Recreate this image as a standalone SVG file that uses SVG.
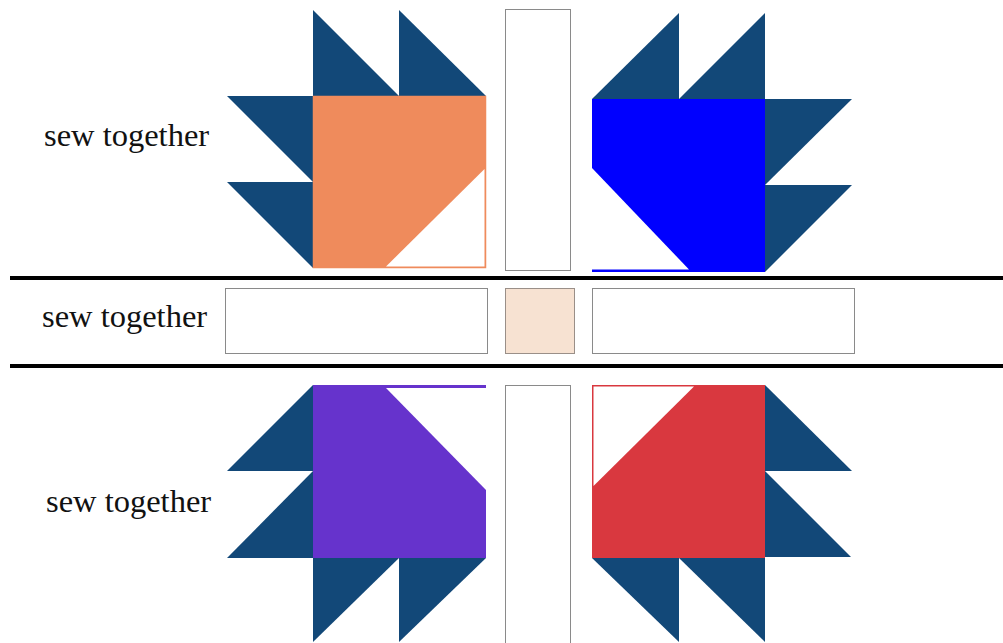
<svg xmlns="http://www.w3.org/2000/svg" width="1003" height="643" viewBox="0 0 1003 643">
<style>
.navy{fill:#124878;}
.lbl{font-family:"Liberation Serif","Times New Roman",serif;font-size:32.5px;fill:#111;}
.strip{fill:#fff;stroke:#8a8a8a;stroke-width:1;}
.sep{stroke:#000;stroke-width:4;}
</style>
<rect width="1003" height="643" fill="#fff"/>
<g id="labels">
<text class="lbl" x="44" y="146">sew together</text>
<text class="lbl" x="42" y="327">sew together</text>
<text class="lbl" x="46" y="512">sew together</text>
</g>
<g id="connectors">
<line class="sep" x1="10" y1="278" x2="1003" y2="278"/>
<line class="sep" x1="10" y1="366" x2="1003" y2="366"/>
</g>
<g id="block-top-left">
<polygon class="navy" points="313,10 313,96 399,96"/>
<polygon class="navy" points="399,10 399,96 486,96"/>
<polygon class="navy" points="227,96 313,96 313,182"/>
<polygon class="navy" points="227,182 313,182 313,268"/>
<rect x="313.5" y="96.5" width="172" height="171" fill="#EF8B5C" stroke="#EF8B5C" stroke-width="1.5"/>
<polygon points="484.5,169 484.5,266.5 386,266.5" fill="#fff"/>
</g>
<g id="block-top-right">
<polygon class="navy" points="679,13 679,99 592,99"/>
<polygon class="navy" points="765,13 765,99 679,99"/>
<polygon class="navy" points="765,99 852,99 765,185"/>
<polygon class="navy" points="765,185 852,185 765,272"/>
<rect x="592" y="99" width="173" height="173" fill="#0000FF"/>
<polygon points="592,168 592,269.5 689,269.5" fill="#fff"/>
</g>
<g id="block-bottom-left">
<polygon class="navy" points="313,385 313,471 227,471"/>
<polygon class="navy" points="313,471 313,558 227,558"/>
<polygon class="navy" points="313,558 399,558 313,642"/>
<polygon class="navy" points="399,558 486,558 399,642"/>
<rect x="313" y="385" width="173" height="173" fill="#6633CC"/>
<polygon points="386,388 486,388 486,490" fill="#fff"/>
</g>
<g id="block-bottom-right">
<polygon class="navy" points="765,385 852,471 765,471"/>
<polygon class="navy" points="765,471 851,557 765,557"/>
<polygon class="navy" points="592,558 679,558 679,642"/>
<polygon class="navy" points="679,558 765,558 765,642"/>
<rect x="592.5" y="385.5" width="172" height="172" fill="#D9383F" stroke="#D9383F" stroke-width="1"/>
<polygon points="593.5,386.5 694,386.5 593.5,486" fill="#fff"/>
</g>
<g id="strip-top"><rect class="strip" x="505.5" y="9.5" width="65" height="261"/></g>
<g id="strip-bottom"><rect class="strip" x="505.5" y="385.5" width="65" height="262"/></g>
<g id="strip-left"><rect class="strip" x="225.5" y="288.5" width="262" height="65"/></g>
<g id="center-square"><rect x="505.5" y="288.5" width="69" height="65" fill="#F7E2D2" stroke="#9a8f88" stroke-width="1"/></g>
<g id="strip-right"><rect class="strip" x="592.5" y="288.5" width="262" height="65"/></g>
</svg>
